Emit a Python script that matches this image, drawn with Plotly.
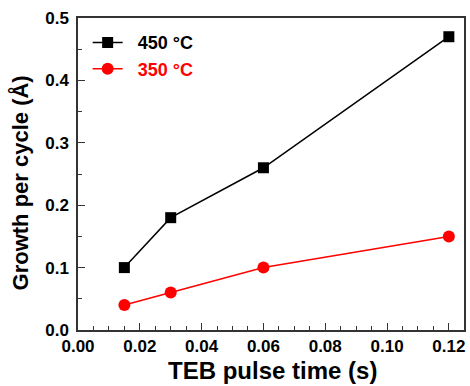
import plotly.graph_objects as go

pulse_time = [0.015, 0.03, 0.06, 0.12]
gpc_450 = [0.10, 0.18, 0.26, 0.47]
gpc_350 = [0.04, 0.06, 0.10, 0.15]
x_ticks = [0.00, 0.02, 0.04, 0.06, 0.08, 0.10, 0.12]
x_tick_labels = ["0.00", "0.02", "0.04", "0.06", "0.08", "0.10", "0.12"]
y_ticks = [0.0, 0.1, 0.2, 0.3, 0.4, 0.5]
y_tick_labels = ["0.0", "0.1", "0.2", "0.3", "0.4", "0.5"]

font_family = "Liberation Sans, Arial, sans-serif"
nbsp = "\u00a0\u00a0"

fig = go.Figure()
fig.add_trace(go.Scatter(
    x=pulse_time, y=gpc_450, mode="lines+markers",
    name=f"<b>{nbsp}450 °C</b>",
    line=dict(color="black", width=1.5),
    marker=dict(symbol="square", size=11, color="black"),
))
fig.add_trace(go.Scatter(
    x=pulse_time, y=gpc_350, mode="lines+markers",
    name=f"<b><span style='color:#ff0000'>{nbsp}350 °C</span></b>",
    line=dict(color="#ff0000", width=1.5),
    marker=dict(symbol="circle", size=12, color="#ff0000"),
))

axis_common = dict(
    showline=True, linecolor="#333333", linewidth=1.5, mirror=True,
    showgrid=False, zeroline=False,
    ticks="inside", ticklen=7, tickwidth=1.2, tickcolor="#333333",
    tickfont=dict(family=font_family, size=17, color="black", weight="bold"),
)

fig.update_xaxes(
    range=[0, 0.1249], tickvals=x_ticks,
    ticktext=[f"<b>{t}</b>" for t in x_tick_labels],
    minor=dict(dtick=0.005, tick0=0, ticks="inside", ticklen=4, tickwidth=1.2, tickcolor="#333333"),
    **axis_common,
)
fig.update_yaxes(
    range=[0, 0.5], tickvals=y_ticks,
    ticktext=[f"<b>{t}</b>" for t in y_tick_labels],
    minor=dict(dtick=0.05, tick0=0, ticks="inside", ticklen=4, tickwidth=1.2, tickcolor="#333333"),
    ticklabelstandoff=4,
    **axis_common,
)

# axis titles as annotations for finer placement
fig.add_annotation(
    text="<b>TEB pulse time (s)</b>", xref="paper", yref="paper",
    x=0.503, y=-0.13, xanchor="center", yanchor="middle", showarrow=False,
    font=dict(family=font_family, size=24, color="black"),
)
fig.add_annotation(
    text="<b>Growth per cycle (Å)</b>", xref="paper", yref="paper",
    x=-0.15, y=0.47, xanchor="center", yanchor="middle", showarrow=False,
    textangle=-90,
    font=dict(family=font_family, size=22, color="black"),
)

fig.update_layout(
    width=470, height=386,
    margin=dict(l=78, r=4, t=18, b=56),
    paper_bgcolor="white", plot_bgcolor="white",
    showlegend=True,
    legend=dict(
        x=0.025, y=0.98, xanchor="left", yanchor="top",
        bgcolor="rgba(0,0,0,0)", borderwidth=0,
        font=dict(family=font_family, size=18, color="black"),
        itemwidth=30,
    ),
)

fig.write_html("out.html")
